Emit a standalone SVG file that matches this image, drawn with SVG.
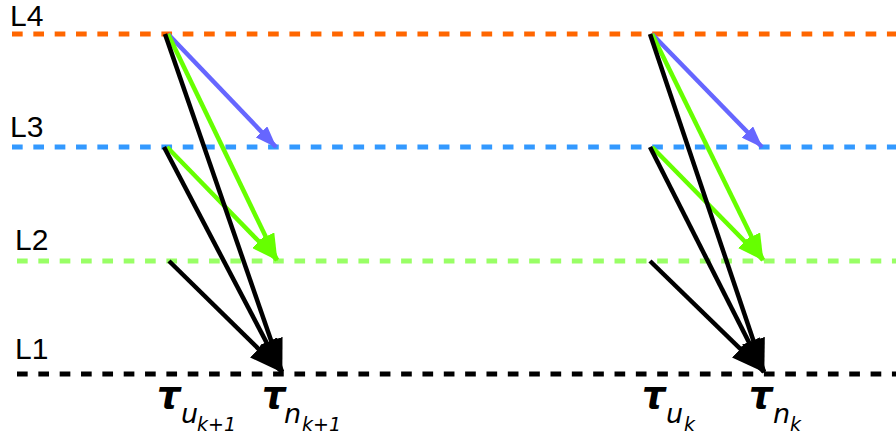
<svg xmlns="http://www.w3.org/2000/svg" width="896" height="439" viewBox="0 0 896 439">
<style>
.lvl{fill:none;stroke-width:5;stroke-dasharray:10.67 10.67}
.lab{font-family:"Liberation Sans",Arial,sans-serif;font-size:30px;fill:#000}
.ar{fill:none;stroke-width:4.5}
.tau{font-family:"DejaVu Sans",sans-serif;font-style:italic;fill:#000}
.big{font-weight:bold;font-size:37px}
.sub{font-size:27px}
.ss{font-size:19px}
</style>
<defs>
<marker id="mb" markerUnits="userSpaceOnUse" viewBox="0 0 34 24" refX="33" refY="12" markerWidth="34" markerHeight="24" orient="auto"><path d="M0,0 L34,12 L0,24 z" fill="#000"/></marker>
<marker id="mg" markerUnits="userSpaceOnUse" viewBox="0 0 27 19" refX="26" refY="9.5" markerWidth="27" markerHeight="19" orient="auto"><path d="M0,0 L27,9.5 L0,19 z" fill="#66ff00"/></marker>
<marker id="mv" markerUnits="userSpaceOnUse" viewBox="0 0 22 16" refX="21" refY="8" markerWidth="22" markerHeight="16" orient="auto"><path d="M0,0 L22,8 L0,16 z" fill="#6666ff"/></marker>
</defs>
<g id="levels">
<g id="L4"><line class="lvl" x1="12" y1="34" x2="896" y2="34" stroke="#ff6600"/><text class="lab" x="10" y="26">L4</text></g>
<g id="L3"><line class="lvl" x1="12" y1="147" x2="896" y2="147" stroke="#3399ff"/><text class="lab" x="10" y="137">L3</text></g>
<g id="L2"><line class="lvl" x1="17" y1="261" x2="896" y2="261" stroke="#99ff66"/><text class="lab" x="15" y="250">L2</text></g>
<g id="L1"><line class="lvl" x1="17" y1="374" x2="896" y2="374" stroke="#000"/><text class="lab" x="15" y="359">L1</text></g>
</g>
<g id="connectors">
<g id="left">
<line class="ar" x1="168" y1="34" x2="276" y2="147" stroke="#6666ff" marker-end="url(#mv)"/>
<line class="ar" x1="168" y1="34" x2="277" y2="260" stroke="#66ff00" marker-end="url(#mg)"/>
<line class="ar" x1="167" y1="147" x2="277" y2="260" stroke="#66ff00" marker-end="url(#mg)"/>
<line class="ar" x1="165" y1="34" x2="282" y2="372" stroke="#000" marker-end="url(#mb)"/>
<line class="ar" x1="164" y1="147" x2="282" y2="372" stroke="#000" marker-end="url(#mb)"/>
<line class="ar" x1="169" y1="261" x2="282" y2="372" stroke="#000" marker-end="url(#mb)"/>
</g>
<g id="right">
<line class="ar" x1="652" y1="34" x2="762" y2="147" stroke="#6666ff" marker-end="url(#mv)"/>
<line class="ar" x1="652" y1="34" x2="763" y2="260" stroke="#66ff00" marker-end="url(#mg)"/>
<line class="ar" x1="652" y1="147" x2="763" y2="260" stroke="#66ff00" marker-end="url(#mg)"/>
<line class="ar" x1="650" y1="34" x2="764" y2="372" stroke="#000" marker-end="url(#mb)"/>
<line class="ar" x1="650" y1="147" x2="764" y2="372" stroke="#000" marker-end="url(#mb)"/>
<line class="ar" x1="650" y1="261" x2="764" y2="372" stroke="#000" marker-end="url(#mb)"/>
</g>
</g>
<g id="labels">
<g id="tau-u-k1"><text class="tau big" x="157" y="408">τ</text><text class="tau sub" x="181" y="423">u</text><text class="tau ss" x="197" y="431">k+1</text></g>
<g id="tau-n-k1"><text class="tau big" x="262" y="408">τ</text><text class="tau sub" x="284" y="423">n</text><text class="tau ss" x="302" y="431">k+1</text></g>
<g id="tau-u-k"><text class="tau big" x="642" y="408">τ</text><text class="tau sub" x="666" y="423">u</text><text class="tau ss" x="684" y="431">k</text></g>
<g id="tau-n-k"><text class="tau big" x="749" y="408">τ</text><text class="tau sub" x="773" y="423">n</text><text class="tau ss" x="790" y="431">k</text></g>
</g>
</svg>
